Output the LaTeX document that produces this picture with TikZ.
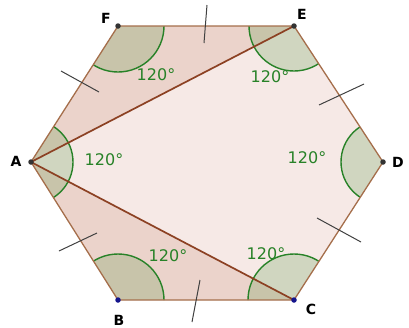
\documentclass[tikz,border=0pt]{standalone}
\usepackage{fontspec}
\setmainfont{DejaVu Sans}
\definecolor{hexfill}{RGB}{246,233,230}
\definecolor{trifill}{RGB}{195,125,95}
\definecolor{edgecol}{RGB}{165,110,75}
\definecolor{diagcol}{RGB}{140,65,35}
\definecolor{angfill}{RGB}{60,140,40}
\definecolor{angline}{RGB}{40,130,40}
\definecolor{ptblue}{RGB}{20,20,140}
\begin{document}
\begin{tikzpicture}[x=1pt,y=-1pt,
  edge/.style={draw=edgecol,line width=1.3pt},
  diag/.style={draw=diagcol,line width=1.7pt},
  tick/.style={draw=black!75,line width=1pt},
  sector/.style={fill=angfill,fill opacity=0.2},
  arcline/.style={draw=angline,line width=1.4pt},
  anglab/.style={text=angline,font=\fontsize{16}{16}\selectfont},
  vlab/.style={font=\fontsize{14}{14}\selectfont\bfseries},
  pt/.style={circle,inner sep=0pt,minimum size=5.5pt,fill=#1}]
\useasboundingbox (0,0) rectangle (409,327);
\coordinate (A) at (31,162);
\coordinate (F) at (118,26);
\coordinate (E) at (294,26);
\coordinate (D) at (383,162);
\coordinate (C) at (294,300);
\coordinate (B) at (118,300);
% fills
\fill[hexfill] (A) -- (F) -- (E) -- (D) -- (C) -- (B) -- cycle;
\fill[trifill,opacity=0.2] (A) -- (F) -- (E) -- cycle;
\fill[trifill,opacity=0.2] (A) -- (B) -- (C) -- cycle;
% angle sectors
\begin{scope}
\clip (A) -- (F) -- (E) -- (D) -- (C) -- (B) -- cycle;
\foreach \v/\r in {A/42,F/46,E/45,D/42,C/46,B/46}{
  \fill[sector] (\v) circle[radius=\r];
  \draw[arcline] (\v) circle[radius=\r];
}
\end{scope}
% edges
\draw[edge] (A) -- (F) -- (E) -- (D) -- (C) -- (B) -- cycle;
\draw[diag] (A) -- (E);
\draw[diag] (A) -- (C);
% ticks
\coordinate (t1a) at (61,71);  \coordinate (t1b) at (99,92);
\coordinate (t2a) at (207,5);  \coordinate (t2b) at (204,43);
\coordinate (t3a) at (319,105); \coordinate (t3b) at (364,84);
\coordinate (t4a) at (317,218); \coordinate (t4b) at (361,242);
\coordinate (t5a) at (200,280); \coordinate (t5b) at (192,322);
\coordinate (t6a) at (59,251);  \coordinate (t6b) at (97,233);
\foreach \i in {1,...,6}{\draw[tick] (t\i a) -- (t\i b);}
% points
\node[pt=black!80] (pA) at (A) {};
\node[pt=black!80] (pF) at (F) {};
\node[pt=black!80] (pE) at (E) {};
\node[pt=black!80] (pD) at (D) {};
\node[pt=ptblue] (pB) at (B) {};
\node[pt=ptblue] (pC) at (C) {};
% vertex labels
\node[vlab] (lA) at (16,161) {A};
\node[vlab] (lF) at (106,18) {F};
\node[vlab] (lE) at (302,14) {E};
\node[vlab] (lD) at (398,162) {D};
\node[vlab] (lB) at (119,320) {B};
\node[vlab] (lC) at (311,309) {C};
% angle labels
\node[anglab] (aF) at (156,75) {120°};
\node[anglab] (aE) at (270,77) {120°};
\node[anglab] (aA) at (104,160) {120°};
\node[anglab] (aD) at (307,158) {120°};
\node[anglab] (aB) at (168,256) {120°};
\node[anglab] (aC) at (266,254) {120°};
\end{tikzpicture}
\end{document}
